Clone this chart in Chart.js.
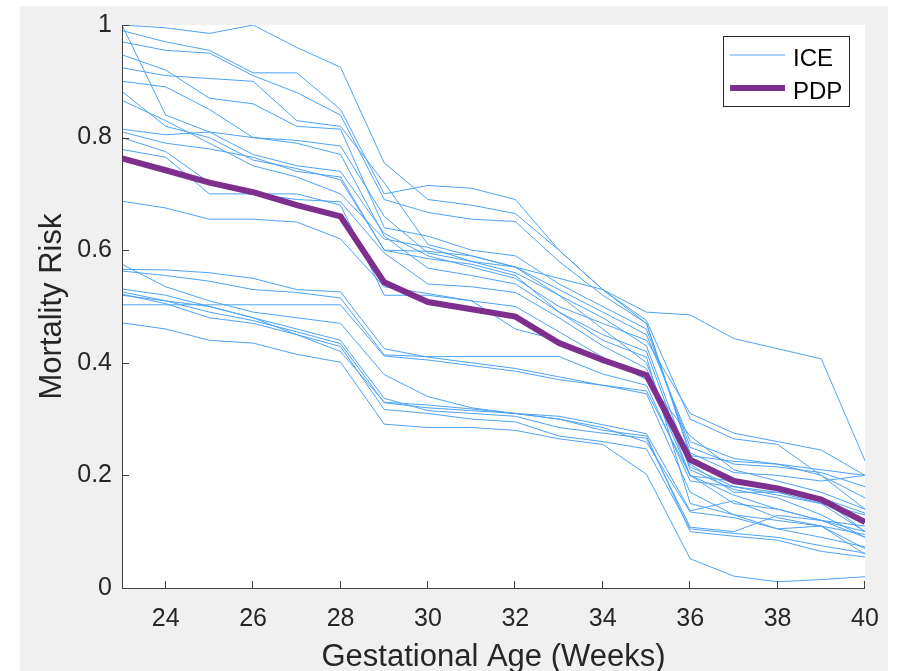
<!DOCTYPE html>
<html>
<head>
<meta charset="utf-8">
<script src="https://cdn.jsdelivr.net/npm/chart.js@4/dist/chart.umd.min.js"></script>
<style>
  html, body { margin: 0; padding: 0; background: #ffffff; }
  #wrap { width: 897px; height: 671px; }
</style>
</head>
<body>
<div id="wrap"><canvas id="c" width="897" height="671"></canvas></div>
<script>
// Gestational age in weeks
const weeks = [23, 24, 25, 26, 27, 28, 29, 30, 31, 32, 33, 34, 35, 36, 37, 38, 39, 40];

// Individual conditional expectation curves
const ice01 = [1.000, 0.995, 0.985, 1.000, 0.960, 0.925, 0.755, 0.690, 0.680, 0.665, 0.600, 0.530, 0.475, 0.300, 0.265, 0.255, 0.200, 0.140];
const ice02 = [0.990, 0.970, 0.955, 0.915, 0.915, 0.850, 0.700, 0.715, 0.710, 0.690, 0.600, 0.530, 0.490, 0.485, 0.443, 0.425, 0.407, 0.226];
const ice03 = [1.000, 0.840, 0.810, 0.770, 0.750, 0.740, 0.630, 0.590, 0.570, 0.550, 0.500, 0.470, 0.440, 0.310, 0.275, 0.260, 0.245, 0.200];
const ice04 = [0.970, 0.955, 0.950, 0.910, 0.880, 0.840, 0.690, 0.667, 0.655, 0.651, 0.580, 0.520, 0.470, 0.240, 0.205, 0.200, 0.190, 0.200];
const ice05 = [0.947, 0.920, 0.870, 0.860, 0.820, 0.815, 0.640, 0.625, 0.600, 0.590, 0.540, 0.500, 0.460, 0.250, 0.220, 0.215, 0.205, 0.180];
const ice06 = [0.924, 0.910, 0.905, 0.900, 0.830, 0.820, 0.720, 0.610, 0.590, 0.570, 0.530, 0.490, 0.450, 0.260, 0.230, 0.220, 0.200, 0.160];
const ice07 = [0.900, 0.890, 0.850, 0.800, 0.795, 0.785, 0.660, 0.595, 0.580, 0.570, 0.520, 0.480, 0.430, 0.220, 0.170, 0.170, 0.150, 0.100];
const ice08 = [0.882, 0.820, 0.800, 0.760, 0.745, 0.725, 0.600, 0.585, 0.575, 0.555, 0.490, 0.450, 0.420, 0.210, 0.175, 0.160, 0.130, 0.090];
const ice09 = [0.866, 0.830, 0.790, 0.750, 0.730, 0.700, 0.620, 0.605, 0.580, 0.560, 0.520, 0.460, 0.400, 0.200, 0.150, 0.140, 0.120, 0.090];
const ice10 = [0.815, 0.805, 0.810, 0.800, 0.790, 0.770, 0.625, 0.568, 0.555, 0.540, 0.490, 0.440, 0.410, 0.150, 0.130, 0.105, 0.110, 0.060];
const ice11 = [0.810, 0.790, 0.780, 0.765, 0.740, 0.730, 0.600, 0.598, 0.590, 0.570, 0.550, 0.530, 0.470, 0.235, 0.225, 0.220, 0.210, 0.200];
const ice12 = [0.800, 0.775, 0.720, 0.700, 0.690, 0.686, 0.595, 0.540, 0.535, 0.525, 0.480, 0.430, 0.390, 0.215, 0.180, 0.170, 0.160, 0.133];
const ice13 = [0.779, 0.765, 0.700, 0.700, 0.700, 0.680, 0.520, 0.520, 0.510, 0.500, 0.455, 0.410, 0.370, 0.270, 0.210, 0.190, 0.170, 0.140];
const ice14 = [0.687, 0.675, 0.655, 0.655, 0.650, 0.620, 0.535, 0.523, 0.510, 0.460, 0.440, 0.400, 0.380, 0.199, 0.190, 0.180, 0.160, 0.100];
const ice15 = [0.566, 0.565, 0.560, 0.550, 0.530, 0.526, 0.425, 0.410, 0.400, 0.390, 0.375, 0.360, 0.350, 0.200, 0.165, 0.140, 0.120, 0.100];
const ice16 = [0.563, 0.555, 0.545, 0.530, 0.525, 0.515, 0.414, 0.411, 0.411, 0.411, 0.411, 0.380, 0.360, 0.190, 0.180, 0.165, 0.150, 0.130];
const ice17 = [0.503, 0.503, 0.503, 0.503, 0.503, 0.503, 0.412, 0.405, 0.395, 0.385, 0.370, 0.360, 0.345, 0.170, 0.130, 0.120, 0.110, 0.070];
const ice18 = [0.575, 0.535, 0.510, 0.490, 0.480, 0.470, 0.379, 0.340, 0.320, 0.310, 0.305, 0.290, 0.274, 0.137, 0.155, 0.125, 0.110, 0.095];
const ice19 = [0.531, 0.520, 0.500, 0.480, 0.460, 0.440, 0.337, 0.315, 0.310, 0.305, 0.285, 0.275, 0.266, 0.108, 0.100, 0.129, 0.120, 0.110];
const ice20 = [0.526, 0.510, 0.490, 0.475, 0.455, 0.434, 0.329, 0.320, 0.315, 0.310, 0.300, 0.285, 0.259, 0.135, 0.125, 0.105, 0.090, 0.073];
const ice21 = [0.522, 0.505, 0.480, 0.470, 0.450, 0.429, 0.317, 0.310, 0.300, 0.295, 0.270, 0.260, 0.247, 0.105, 0.097, 0.090, 0.075, 0.062];
const ice22 = [0.471, 0.460, 0.440, 0.435, 0.415, 0.401, 0.291, 0.285, 0.285, 0.280, 0.265, 0.255, 0.202, 0.052, 0.021, 0.011, 0.015, 0.020];
const ice23 = [0.520, 0.510, 0.500, 0.480, 0.450, 0.420, 0.330, 0.325, 0.318, 0.310, 0.300, 0.280, 0.270, 0.100, 0.092, 0.085, 0.065, 0.055];

// Partial dependence curve
const pdp = [0.763, 0.742, 0.720, 0.703, 0.680, 0.660, 0.543, 0.508, 0.495, 0.482, 0.435, 0.405, 0.378, 0.228, 0.190, 0.177, 0.157, 0.117];

const iceCurves = [ice01, ice02, ice03, ice04, ice05, ice06, ice07, ice08, ice09, ice10, ice11, ice12,
                   ice13, ice14, ice15, ice16, ice17, ice18, ice19, ice20, ice21, ice22, ice23];

const xTicks = [24, 26, 28, 30, 32, 34, 36, 38, 40];
const yTicks = [0, 0.2, 0.4, 0.6, 0.8, 1];

const ICE_COLOR = '#4da3f5';
const PDP_COLOR = '#7e2f8e';
const AXIS_COLOR = '#404040';
const TEXT_COLOR = '#262626';
const FONT = '"Liberation Sans", Arial, Helvetica, sans-serif';

const toPoints = vals => weeks.map((w, i) => ({ x: w, y: vals[i] }));

const datasets = [{
  label: 'PDP',
  data: toPoints(pdp),
  borderColor: PDP_COLOR,
  borderWidth: 6,
  order: 0
}].concat(iceCurves.map((c, k) => ({
  label: 'ICE ' + (k + 1),
  data: toPoints(c),
  borderColor: ICE_COLOR,
  borderWidth: 1,
  order: 1
})));

// Figure backdrop, white axes box, inward tick marks, axis lines and legend
const figurePlugin = {
  id: 'figure',
  beforeDraw(chart) {
    const { ctx, chartArea: a } = chart;
    ctx.save();
    ctx.fillStyle = '#ffffff';
    ctx.fillRect(0, 0, chart.width, chart.height);
    ctx.fillStyle = '#f0f0f0';
    ctx.fillRect(20, 6, 868, chart.height - 6);
    ctx.fillStyle = '#ffffff';
    ctx.fillRect(a.left, a.top, a.right - a.left, a.bottom - a.top);
    ctx.restore();
  },
  afterDatasetsDraw(chart) {
    const { ctx, chartArea: a, scales: { x, y } } = chart;
    ctx.save();
    ctx.strokeStyle = AXIS_COLOR;
    ctx.lineWidth = 1;
    ctx.beginPath();
    ctx.moveTo(a.left + 0.5, a.top);
    ctx.lineTo(a.left + 0.5, a.bottom + 0.5);
    ctx.lineTo(a.right, a.bottom + 0.5);
    const tl = 7;
    x.ticks.forEach(t => {
      const px = Math.round(x.getPixelForValue(t.value)) - 0.5;
      ctx.moveTo(px, a.bottom);
      ctx.lineTo(px, a.bottom - tl);
    });
    y.ticks.forEach(t => {
      const py = Math.round(y.getPixelForValue(t.value)) + 0.5;
      ctx.moveTo(a.left, py);
      ctx.lineTo(a.left + tl, py);
    });
    ctx.stroke();

    // legend box
    const bx = 723.5, by = 36.5, bw = 126, bh = 70;
    ctx.fillStyle = '#ffffff';
    ctx.fillRect(bx, by, bw, bh);
    ctx.strokeStyle = '#262626';
    ctx.strokeRect(bx, by, bw, bh);
    ctx.beginPath();
    ctx.strokeStyle = ICE_COLOR;
    ctx.lineWidth = 1;
    ctx.moveTo(730, 55);
    ctx.lineTo(785, 55);
    ctx.stroke();
    ctx.beginPath();
    ctx.strokeStyle = PDP_COLOR;
    ctx.lineWidth = 6;
    ctx.moveTo(730, 88);
    ctx.lineTo(785, 88);
    ctx.stroke();
    ctx.fillStyle = '#000000';
    ctx.font = '24px ' + FONT;
    ctx.textBaseline = 'alphabetic';
    ctx.textAlign = 'left';
    ctx.fillText('ICE', 793, 66);
    ctx.fillText('PDP', 793, 99);
    ctx.restore();
  }
};

new Chart(document.getElementById('c'), {
  type: 'line',
  data: { datasets },
  options: {
    responsive: false,
    animation: false,
    devicePixelRatio: 1,
    layout: { padding: { left: 0, right: 32, top: 20, bottom: 0 } },
    elements: { point: { radius: 0, hoverRadius: 0 }, line: { tension: 0, fill: false } },
    plugins: { legend: { display: false }, tooltip: { enabled: false } },
    events: [],
    scales: {
      x: {
        type: 'linear',
        min: 23,
        max: 40,
        border: { display: false },
        grid: { display: false, drawTicks: false },
        afterBuildTicks: s => { s.ticks = xTicks.map(v => ({ value: v })); },
        afterFit: s => { s.height = 83; },
        ticks: {
          padding: 16,
          color: TEXT_COLOR,
          font: { family: FONT, size: 25 },
          maxRotation: 0,
          autoSkip: false,
          callback: v => String(v)
        },
        title: {
          display: true,
          text: 'Gestational Age (Weeks)',
          color: TEXT_COLOR,
          font: { family: FONT, size: 31 },
          padding: { top: 0, bottom: -5 }
        }
      },
      y: {
        type: 'linear',
        min: 0,
        max: 1,
        border: { display: false },
        grid: { display: false, drawTicks: false },
        afterBuildTicks: s => { s.ticks = yTicks.map(v => ({ value: v })); },
        afterFit: s => { s.width = 122; },
        ticks: {
          padding: 10,
          color: TEXT_COLOR,
          font: { family: FONT, size: 25 },
          callback: v => String(v)
        },
        title: {
          display: true,
          text: 'Mortality Risk',
          color: TEXT_COLOR,
          font: { family: FONT, size: 31 },
          padding: { top: 34, bottom: 0 }
        }
      }
    }
  },
  plugins: [figurePlugin]
});
</script>
</body>
</html>
